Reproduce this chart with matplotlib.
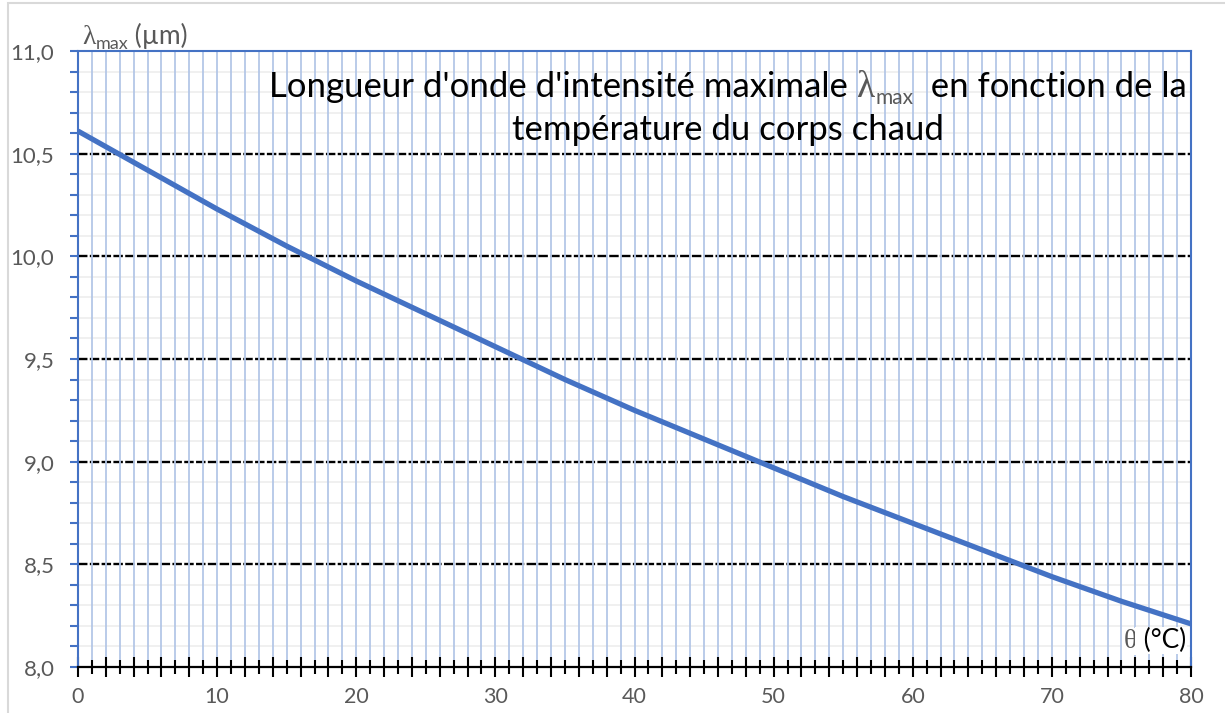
import numpy as np
import matplotlib
matplotlib.use("Agg")
import matplotlib.pyplot as plt
from matplotlib.patches import Rectangle

plt.rcParams["font.family"] = ["Lato", "DejaVu Sans"]

# data
theta = [0, 5, 10, 15, 20, 25, 30, 35, 40, 45, 50, 55, 60, 65, 70, 75, 80]
lam_max = [10.61, 10.42, 10.23, 10.05, 9.88, 9.72, 9.56, 9.40, 9.25,
           9.11, 8.97, 8.83, 8.70, 8.57, 8.44, 8.32, 8.21]

x_ticks = np.arange(0, 81, 2)
x_minor = np.arange(1, 80, 2)
x_grid = np.arange(1, 80, 1)
y_ticks = np.arange(8.0, 11.01, 0.5)
y_minor = np.round(np.arange(8.0, 11.01, 0.1), 1)

BLUE = "#4472C4"
GREY = "#595959"
W, H = 1225, 713

fig = plt.figure(figsize=(W / 100, H / 100), dpi=100)
ax = fig.add_axes([78 / W, 1 - 667 / H, (1191 - 78) / W, (667 - 51) / H])
ax.set_xlim(0, 80)
ax.set_ylim(8, 11)

# grid
gray_y = [v for v in y_minor if abs(v * 2 - round(v * 2)) > 1e-6]
ax.hlines(gray_y, 0, 80, color="#EDEDED", lw=1.2, zorder=0.5)
ax.hlines(y_ticks[1:-1], 0, 80, color="black", lw=1.7,
          linestyles=(0, (4, 1.0)), zorder=0.8)
ax.vlines(x_grid, 8, 11, color="#B4C7E7", lw=1.3, zorder=1)

ax.plot(theta, lam_max, color=BLUE, lw=3.8, solid_capstyle="butt", zorder=3)

# axes
for s in ["left", "top", "right"]:
    ax.spines[s].set_color(BLUE)
    ax.spines[s].set_linewidth(1.5)
ax.spines["bottom"].set_color("black")
ax.spines["bottom"].set_linewidth(1.6)

ax.set_xticks(x_ticks)
ax.set_xticklabels([str(v) if v % 10 == 0 else "" for v in x_ticks])
ax.set_xticks(x_minor, minor=True)
ax.tick_params(axis="x", which="major", direction="inout", length=15,
               width=1.5, color="black", labelsize=15.5, labelcolor=GREY, pad=7)
ax.tick_params(axis="x", which="minor", direction="inout", length=10,
               width=1.5, color="black")

ax.set_yticks(y_ticks)
ax.set_yticklabels([f"{v:.1f}".replace(".", ",") for v in y_ticks])
ax.set_yticks(y_minor, minor=True)
ax.tick_params(axis="y", which="both", direction="out", length=6,
               width=1.5, color=BLUE, labelsize=16, labelcolor=GREY, pad=11)


def row(pieces, x_px, y_px, ha="left", bbox=None):
    r = fig.canvas.get_renderer()
    items = []
    for s, kw in pieces:
        kw = dict(kw)
        dy = kw.pop("dy", 0)
        t = fig.text(0, 0, s, va="baseline", zorder=5, **kw)
        if bbox:
            t.set_bbox(bbox)
        items.append((t, dy, t.get_window_extent(r).width))
    total = sum(w for _, _, w in items)
    if ha == "center":
        x = x_px - total / 2
    elif ha == "right":
        x = x_px - total
    else:
        x = x_px
    for t, dy, w in items:
        t.set_position((x / W, (H - y_px - dy) / H))
        x += w


serif = "Liberation Serif"

# title
row([("Longueur d'onde d'intensité maximale ", dict(fontsize=25, color="black")),
     ("λ", dict(fontsize=27, color=GREY, family=serif)),
     ("max", dict(fontsize=15, color=GREY, dy=7)),
     ("  en fonction de la", dict(fontsize=25, color="black"))],
    728, 97, ha="center")
row([("température du corps chaud", dict(fontsize=25, color="black"))],
    728, 140, ha="center")

# y label
row([("λ", dict(fontsize=20, color=GREY, family=serif)),
     ("max", dict(fontsize=13, color=GREY, dy=5)),
     (" (µm)", dict(fontsize=19, color=GREY))],
    82, 44)

# x label
row([("θ", dict(fontsize=20, color=GREY, family=serif)),
     (" (°C)", dict(fontsize=19, color="black"))],
    1186, 648, ha="right",
    bbox=dict(facecolor="white", edgecolor="none", pad=1))

fig.patches.append(Rectangle((8 / W, -0.1), 1.2, 1 - 3 / H + 0.1,
                             transform=fig.transFigure, fill=False,
                             ec="#D9D9D9", lw=1.5))

fig.savefig("out.png", dpi=100)
